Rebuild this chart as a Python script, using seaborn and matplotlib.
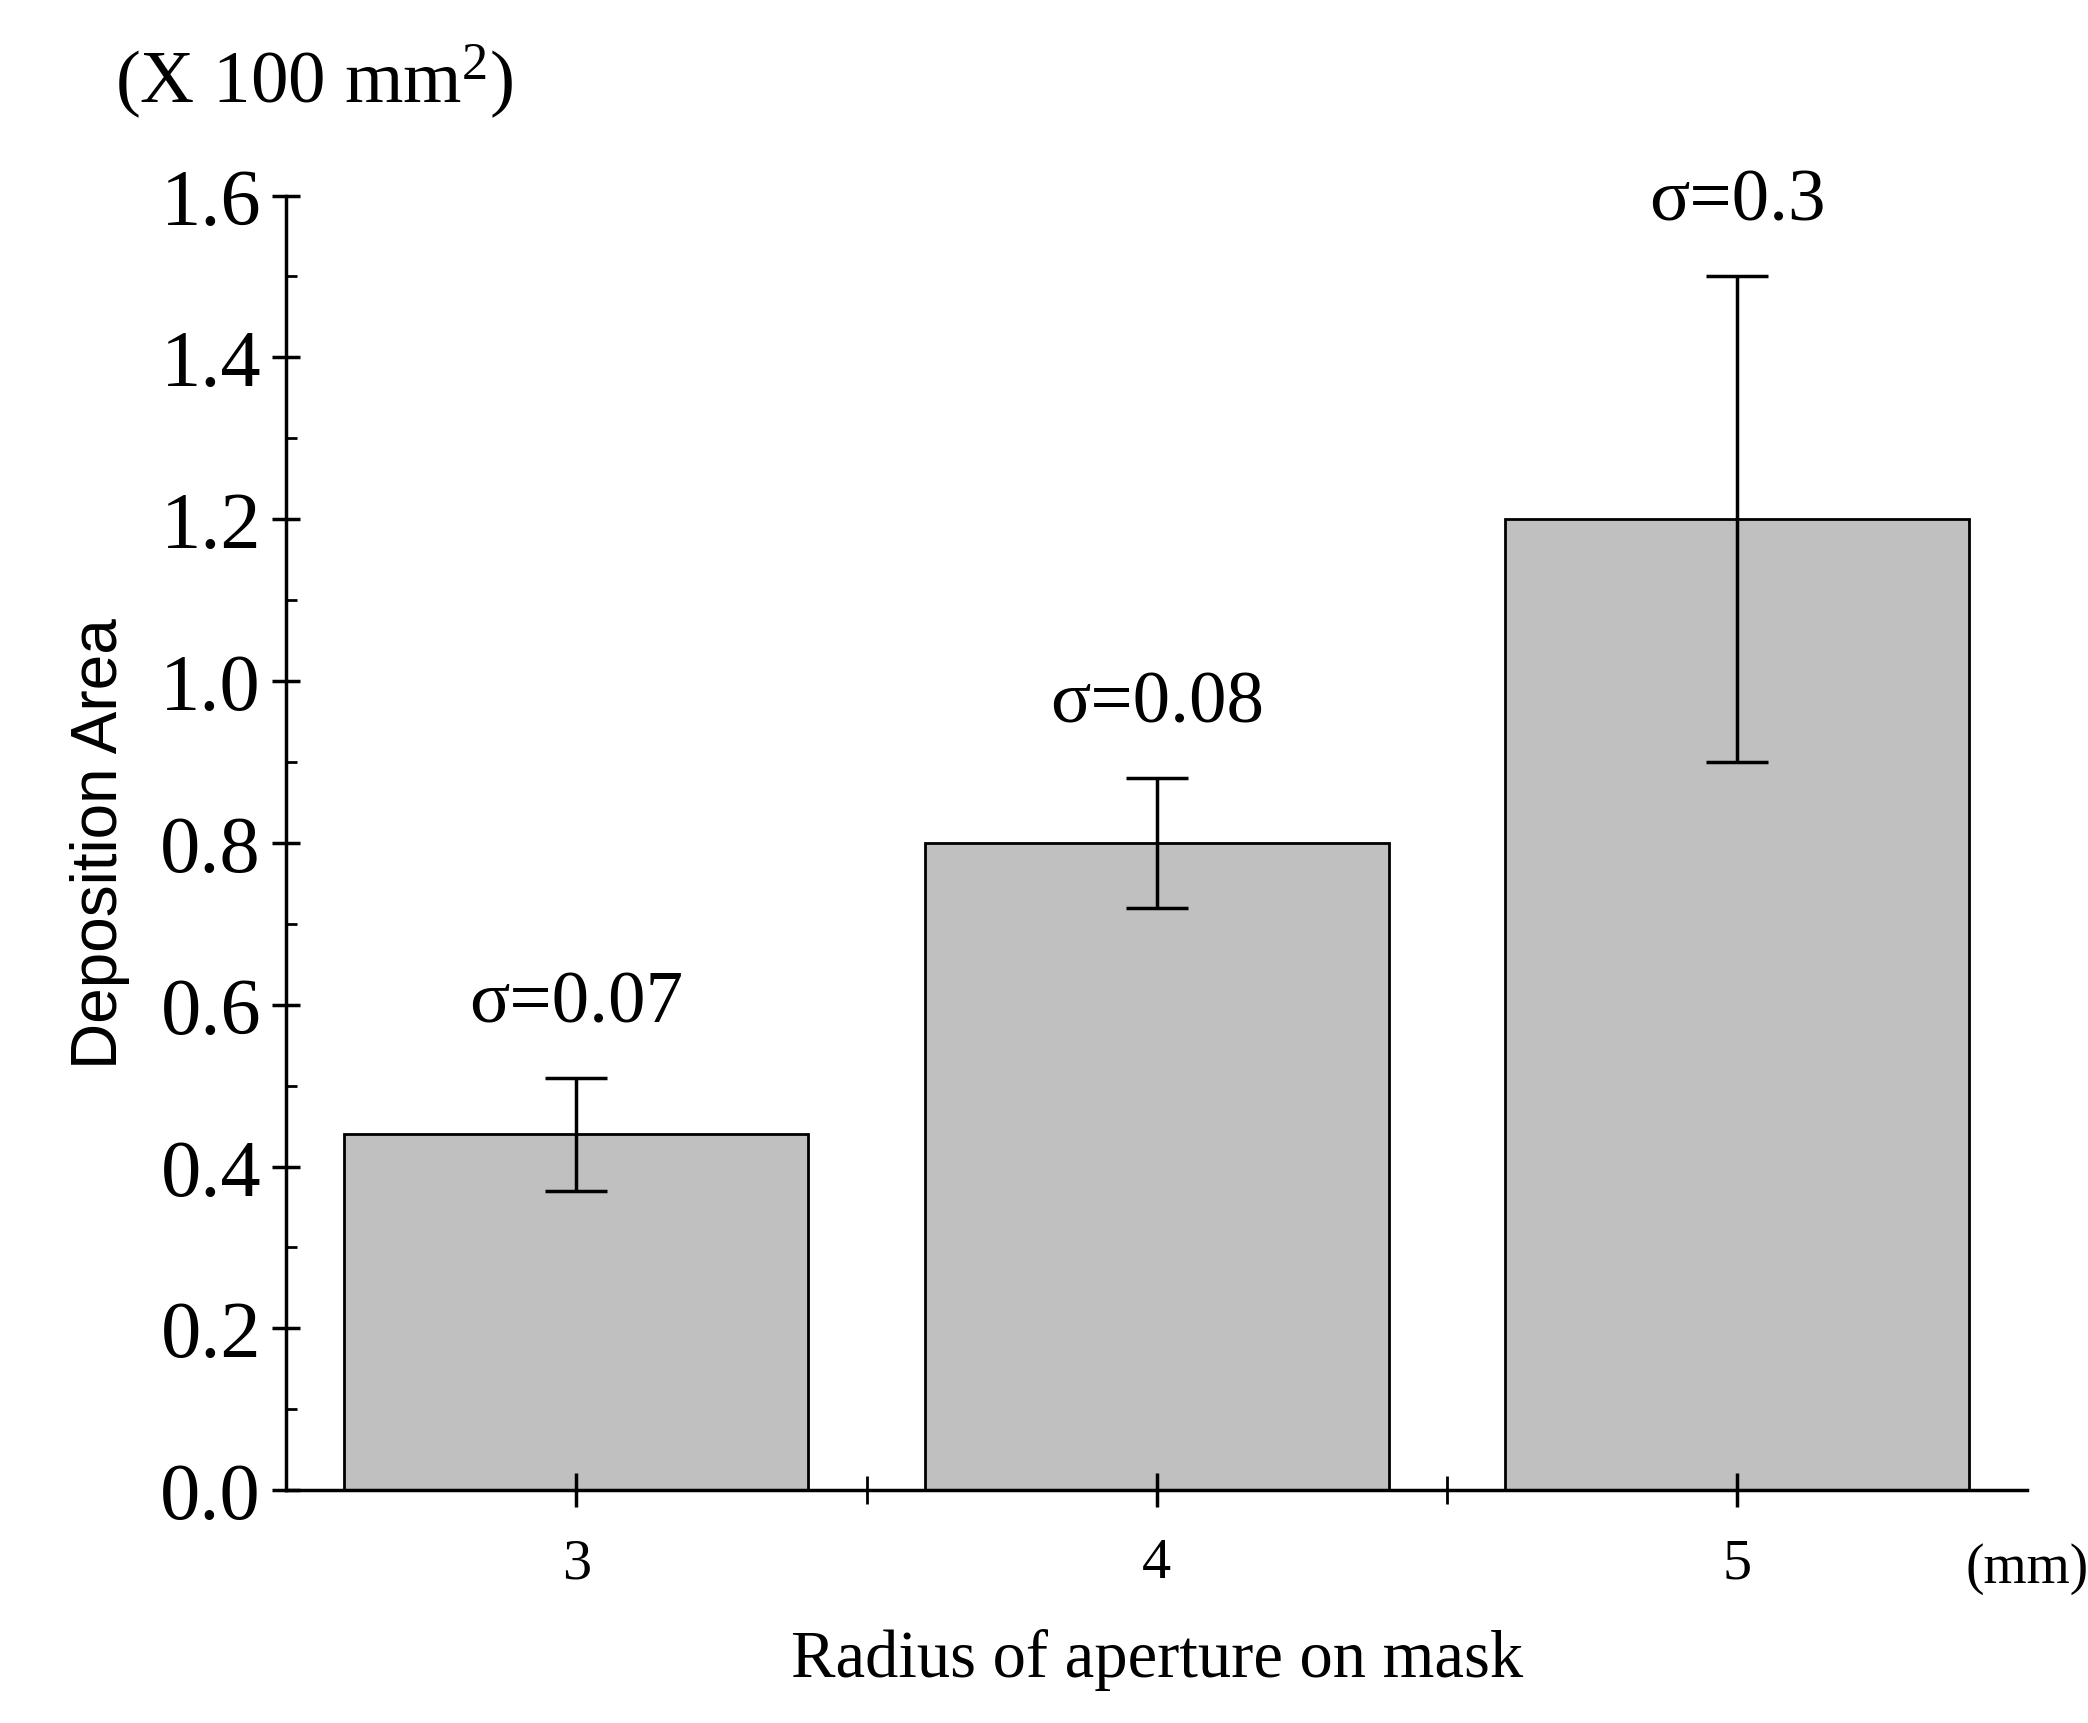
import matplotlib
matplotlib.use("Agg")
import matplotlib.pyplot as plt
import seaborn as sns
import pandas as pd
from matplotlib.ticker import MultipleLocator

radius = ["3", "4", "5"]
area = [0.44, 0.80, 1.20]
sigma = [0.07, 0.08, 0.30]
sigma_labels = ["σ=0.07", "σ=0.08", "σ=0.3"]

df = pd.DataFrame({"radius": radius, "area": area})

plt.rcParams["mathtext.fontset"] = "custom"
plt.rcParams["mathtext.rm"] = "Liberation Serif"
plt.rcParams["mathtext.it"] = "Liberation Serif"

fig = plt.figure(figsize=(20.88, 17.24), dpi=100)
ax = fig.add_axes([0.137, 0.135, 0.834, 0.751])
sns.barplot(data=df, x="radius", y="area", color="#c0c0c0", edgecolor="black",
            linewidth=2, width=0.8, saturation=1, ax=ax, errorbar=None)
xs = list(range(len(radius)))
ax.errorbar(xs, area, yerr=sigma, fmt="none", ecolor="black", elinewidth=2.5,
            capsize=22, capthick=2.5)
for x, a, s, lab in zip(xs, area, sigma, sigma_labels):
    ax.text(x, a + s + 0.05, lab, ha="center", va="bottom",
            fontfamily="Liberation Serif", fontsize=54)

ax.set_xlim(-0.5, 2.5)
ax.set_ylim(0, 1.6)
ax.yaxis.set_major_locator(MultipleLocator(0.2))
ax.yaxis.set_minor_locator(MultipleLocator(0.1))
ax.set_xticks(xs)
ax.set_xticks([0.5, 1.5], minor=True)
ax.yaxis.set_major_formatter(matplotlib.ticker.FormatStrFormatter("%.1f"))
for s in ["top", "right"]:
    ax.spines[s].set_visible(False)
for s in ["left", "bottom"]:
    ax.spines[s].set_linewidth(2.5)
ax.tick_params(axis="x", which="major", direction="inout", length=24, width=2.5, pad=22)
ax.tick_params(axis="x", which="minor", direction="inout", length=20, width=2)
ax.tick_params(axis="y", which="major", direction="inout", length=20, width=2.5, pad=8)
ax.tick_params(axis="y", which="minor", direction="in", length=8, width=2)
for lab in ax.get_yticklabels():
    lab.set_fontfamily("Liberation Serif"); lab.set_fontsize(58)
for lab in ax.get_xticklabels():
    lab.set_fontfamily("Liberation Serif"); lab.set_fontsize(42)
ax.set_xlabel("Radius of aperture on mask", fontfamily="Liberation Serif",
              fontsize=48, labelpad=28)
ax.set_ylabel("Deposition Area", fontfamily="Liberation Sans", fontsize=46, labelpad=22)
fig.text(0.055, 0.93, "(X 100 mm$^{2}$)", fontfamily="Liberation Serif", fontsize=54,
         ha="left", va="bottom")
ax.text(1.0, -0.04, "(mm)", transform=ax.transAxes, fontfamily="Liberation Serif",
        fontsize=40, ha="center", va="top")
fig.savefig("out.png", dpi=100)
